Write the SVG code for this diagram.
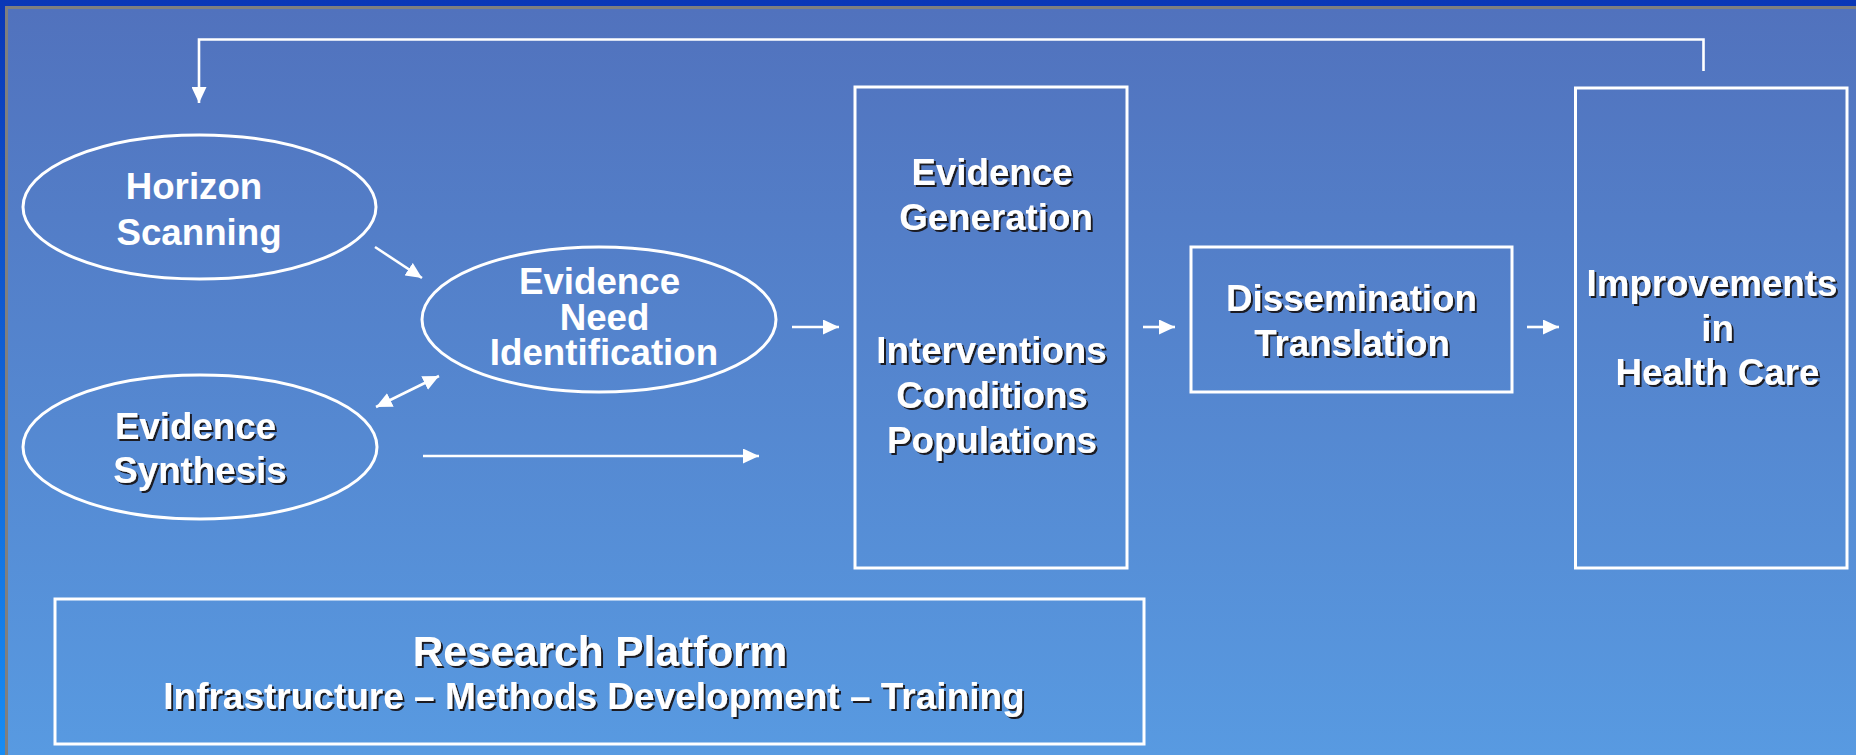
<svg xmlns="http://www.w3.org/2000/svg" width="1856" height="755" viewBox="0 0 1856 755">
  <defs>
    <linearGradient id="frameGrad" x1="0" y1="0" x2="0" y2="1">
      <stop offset="0" stop-color="#0a37b7"/>
      <stop offset="1" stop-color="#178cf3"/>
    </linearGradient>
    <linearGradient id="slideGrad" x1="0" y1="0" x2="0" y2="1">
      <stop offset="0" stop-color="#5172bd"/>
      <stop offset="1" stop-color="#589ae1"/>
    </linearGradient>
    <filter id="shadow" x="-5%" y="-20%" width="110%" height="140%">
      <feFlood flood-color="#1a1a24" result="c"/>
      <feComposite in="c" in2="SourceAlpha" operator="in" result="s"/>
      <feOffset in="s" dx="2" dy="2" result="o"/>
      <feMerge>
        <feMergeNode in="o"/>
        <feMergeNode in="SourceGraphic"/>
      </feMerge>
    </filter>
    <marker id="head" markerUnits="userSpaceOnUse" markerWidth="17" markerHeight="15" refX="16" refY="7.5" orient="auto-start-reverse">
      <path d="M0,0 L16,7.5 L0,15 Z" fill="#ffffff"/>
    </marker>
  </defs>
  <style>
    .shape { fill: none; stroke: #ffffff; stroke-width: 3; }
    .link { fill: none; stroke: #ffffff; stroke-width: 2.6; }
    .lbl { font-family: "Liberation Sans", Arial, sans-serif; font-weight: bold; font-size: 36.7px; fill: #ffffff; text-anchor: middle; }
    .sh { filter: url(#shadow); }
  </style>

  <!-- slide background and frame -->
  <rect x="0" y="0" width="1856" height="755" fill="url(#frameGrad)"/>
  <rect x="5" y="6" width="1851" height="749" fill="#7f7f7f"/>
  <rect x="8" y="9" width="1848" height="746" fill="url(#slideGrad)"/>

  <!-- connectors -->
  <g id="connectors">
    <polyline class="link" points="1703.5,71 1703.5,39.5 199,39.5 199,103" marker-end="url(#head)"/>
    <line class="link" x1="375" y1="247" x2="422" y2="278" marker-end="url(#head)"/>
    <line class="link" x1="376" y1="407" x2="439" y2="376" marker-start="url(#head)" marker-end="url(#head)"/>
    <line class="link" x1="423" y1="456" x2="759" y2="456" marker-end="url(#head)"/>
    <line class="link" x1="792" y1="327" x2="839" y2="327" marker-end="url(#head)"/>
    <line class="link" x1="1143" y1="327" x2="1175" y2="327" marker-end="url(#head)"/>
    <line class="link" x1="1527" y1="327" x2="1559" y2="327" marker-end="url(#head)"/>
  </g>

  <g id="horizon-scanning">
    <ellipse class="shape" cx="199.5" cy="207" rx="176.5" ry="72"/>
    <text class="lbl" x="194" y="199">Horizon</text>
    <text class="lbl" x="199" y="245">Scanning</text>
  </g>

  <g id="evidence-need-identification">
    <ellipse class="shape" cx="599" cy="319.5" rx="177" ry="72.5"/>
    <text class="lbl" x="599.5" y="294">Evidence</text>
    <text class="lbl" x="604.5" y="330">Need</text>
    <text class="lbl" x="604" y="365">Identification</text>
  </g>

  <g id="evidence-synthesis">
    <ellipse class="shape" cx="200" cy="447" rx="177" ry="72"/>
    <text class="lbl sh" x="195.5" y="439">Evidence</text>
    <text class="lbl sh" x="200" y="483">Synthesis</text>
  </g>

  <g id="evidence-generation">
    <rect class="shape" x="855" y="87" width="272" height="481"/>
    <text class="lbl sh" x="992" y="185">Evidence</text>
    <text class="lbl sh" x="996" y="230">Generation</text>
    <text class="lbl sh" x="991.5" y="363">Interventions</text>
    <text class="lbl sh" x="992" y="408">Conditions</text>
    <text class="lbl sh" x="992" y="453">Populations</text>
  </g>

  <g id="dissemination-translation">
    <rect class="shape" x="1191" y="247" width="321" height="145"/>
    <text class="lbl sh" x="1351.5" y="311">Dissemination</text>
    <text class="lbl sh" x="1352" y="356">Translation</text>
  </g>

  <g id="improvements-health-care">
    <rect class="shape" x="1575.5" y="88" width="271.5" height="480"/>
    <text class="lbl sh" x="1712" y="296">Improvements</text>
    <text class="lbl sh" x="1717.5" y="341">in</text>
    <text class="lbl sh" x="1717.5" y="385">Health Care</text>
  </g>

  <g id="research-platform">
    <rect class="shape" x="55" y="599" width="1089" height="145"/>
    <text class="lbl sh" x="600" y="665.5" style="font-size:42.4px">Research Platform</text>
    <text class="lbl sh" x="594" y="709" style="font-size:37px">Infrastructure – Methods Development – Training</text>
  </g>
</svg>
